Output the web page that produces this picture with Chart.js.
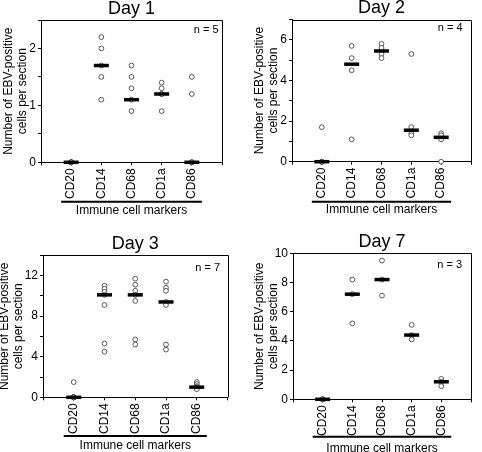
<!DOCTYPE html>
<html>
<head>
<meta charset="utf-8">
<script src="https://cdn.jsdelivr.net/npm/chart.js@4.4.0/dist/chart.umd.min.js"></script>
<style>
  body { margin: 0; background: #fff; }
  #wrap { position: relative; width: 482px; height: 452px; overflow: hidden; }
  #wrap canvas { position: absolute; }
</style>
</head>
<body>
<div id="wrap">
  <canvas id="day1" width="241" height="226" style="left:0;top:0"></canvas>
  <canvas id="day2" width="241" height="226" style="left:241px;top:0"></canvas>
  <canvas id="day3" width="241" height="226" style="left:0;top:226px"></canvas>
  <canvas id="day7" width="241" height="226" style="left:241px;top:226px"></canvas>
</div>
<script>
"use strict";

const markers = ['CD20', 'CD14', 'CD68', 'CD1a', 'CD86'];
const xTitle = 'Immune cell markers';
const yTitle = ['Number of EBV-positive', 'cells per section'];

// Day 1, n = 5
const day1Points = [
  [0, 0, 0, 0, 0],
  [2.2, 2.0, 1.7, 1.5, 1.1],
  [1.7, 1.5, 1.3, 1.1, 0.9],
  [1.4, 1.3, 1.2, 1.2, 0.9],
  [1.5, 1.2, 0, 0, 0]
];
const day1Medians = [0, 1.7, 1.1, 1.2, 0];
const day1Labels = [0, 1, 2];

// Day 2, n = 4
const day2Points = [
  [0, 0, 0, 1.7],
  [5.7, 5.1, 4.5, 1.1],
  [5.8, 5.6, 5.3, 5.1],
  [5.3, 1.7, 1.4, 1.3],
  [1.4, 1.3, 1.1, 0]
];
const day2Medians = [0, 4.8, 5.45, 1.55, 1.2];
const day2Labels = [0, 2, 4, 6];

// Day 3, n = 7
const day3Points = [
  [0, 0, 0, 0, 0, 0, 1.5],
  [11.0, 10.7, 10.4, 10.1, 9.1, 5.3, 4.5],
  [11.7, 11.1, 10.5, 10.1, 9.5, 5.7, 5.2],
  [11.4, 10.8, 10.5, 9.4, 9.1, 5.2, 4.7],
  [1.5, 1.3, 1.1, 1.0, 0.9, 0.9, 0.8]
];
const day3Medians = [0, 10.1, 10.1, 9.4, 1.0];
const day3Labels = [0, 4, 8, 12];

// Day 7, n = 3
const day7Points = [
  [0, 0, 0],
  [8.2, 7.2, 5.2],
  [9.5, 8.2, 7.1],
  [5.1, 4.4, 4.1],
  [1.4, 1.2, 0.9]
];
const day7Medians = [0, 7.2, 8.2, 4.4, 1.2];
const day7Labels = [0, 2, 4, 6, 8, 10];

Chart.defaults.font.family = "'Liberation Sans', Arial, sans-serif";
Chart.defaults.color = '#000';

// frame top/right, panel title, n label and the bracket under the markers
const decor = {
  id: 'decor',
  afterDraw(chart, args, o) {
    const ctx = chart.ctx;
    const a = chart.chartArea;
    const x = chart.scales.x;
    ctx.save();
    ctx.strokeStyle = '#000';
    ctx.lineWidth = 1;
    ctx.beginPath();
    ctx.moveTo(a.left, Math.round(a.top) + 0.5);
    ctx.lineTo(Math.round(a.right) + 0.5, Math.round(a.top) + 0.5);
    ctx.lineTo(Math.round(a.right) + 0.5, a.bottom);
    ctx.stroke();

    ctx.fillStyle = '#000';
    ctx.textBaseline = 'middle';
    ctx.textAlign = 'center';
    ctx.font = "18px 'Liberation Sans', Arial, sans-serif";
    ctx.fillText(o.title, (a.left + a.right) / 2, a.top - 11);

    ctx.textBaseline = 'alphabetic';
    ctx.textAlign = 'right';
    ctx.font = "11px 'Liberation Sans', Arial, sans-serif";
    ctx.fillText(o.n, a.right - o.nInset, a.top + o.nBase);

    const x1 = x.getPixelForValue(1) - 10;
    const x2 = x.getPixelForValue(markers.length) + 10;
    ctx.lineWidth = 2;
    ctx.beginPath();
    ctx.moveTo(x1, a.bottom + o.barOff);
    ctx.lineTo(x2, a.bottom + o.barOff);
    ctx.stroke();

    ctx.textAlign = 'center';
    ctx.textBaseline = 'middle';
    ctx.font = "12px 'Liberation Sans', Arial, sans-serif";
    ctx.fillText(xTitle, (x1 + x2) / 2, a.bottom + o.textOff);
    ctx.restore();
  }
};

function makeChart(id, points, medians, labels, g) {
  const pts = [];
  points.forEach(function (vals, i) {
    vals.forEach(function (v) { pts.push({ x: i + 1, y: v }); });
  });
  const med = medians.map(function (v, i) { return { x: i + 1, y: v }; });

  return new Chart(document.getElementById(id).getContext('2d'), {
    type: 'scatter',
    data: {
      datasets: [
        {
          data: med,
          order: 0,
          pointStyle: 'line',
          pointRadius: 7.5,
          pointHoverRadius: 7.5,
          borderColor: '#000',
          pointBorderWidth: 3.5,
          clip: false
        },
        {
          data: pts,
          order: 1,
          pointStyle: 'circle',
          pointRadius: 2.4,
          pointHoverRadius: 2.4,
          pointBorderWidth: 0.8,
          borderColor: '#333',
          backgroundColor: '#fff',
          clip: false
        }
      ]
    },
    options: {
      responsive: false,
      animation: false,
      devicePixelRatio: 1,
      layout: { padding: { top: g.top, right: 241 - g.right, left: 0, bottom: 0 } },
      plugins: {
        legend: { display: false },
        tooltip: { enabled: false },
        decor: { title: g.title, n: g.n, nInset: g.nInset, nBase: g.nBase, barOff: g.barOff, textOff: g.textOff }
      },
      scales: {
        x: {
          type: 'linear',
          min: 0,
          max: markers.length + 1,
          grid: { drawOnChartArea: false, tickLength: 3, color: '#000' },
          border: { color: '#000', width: 1 },
          ticks: {
            stepSize: 1,
            autoSkip: false,
            minRotation: 90,
            maxRotation: 90,
            padding: 3,
            font: { size: 12 },
            callback: function (v) { return markers[v - 1] || ''; }
          },
          afterFit: function (s) {
            s.height = 226 - g.bottom;
            s.paddingLeft = 0;
            s.paddingRight = 0;
          }
        },
        y: {
          min: 0,
          max: g.max,
          grid: { drawOnChartArea: false, tickLength: 3, color: '#000' },
          border: { color: '#000', width: 1 },
          title: {
            display: true,
            text: yTitle,
            font: { size: 12, lineHeight: 1.2 },
            padding: { top: g.titlePad, bottom: 0 }
          },
          ticks: {
            stepSize: g.step,
            padding: 2,
            font: { size: 12 },
            callback: function (v) { return labels.indexOf(v) >= 0 ? String(v) : ''; }
          },
          afterFit: function (s) {
            s.width = g.left;
            s.paddingTop = 0;
            s.paddingBottom = 0;
          }
        }
      }
    },
    plugins: [decor]
  });
}

makeChart('day1', day1Points, day1Medians, day1Labels,
  { title: 'Day 1', n: 'n = 5', left: 41, right: 222, top: 20, bottom: 162.3, max: 2.5, step: 0.5,
    titlePad: 1.5, nInset: 3.5, nBase: 13, barOff: 39.4, textOff: 48.2 });
makeChart('day2', day2Points, day2Medians, day2Labels,
  { title: 'Day 2', n: 'n = 4', left: 51, right: 237, top: 19.5, bottom: 161.7, max: 7, step: 1,
    titlePad: 11.5, nInset: 8.5, nBase: 11.4, barOff: 40, textOff: 48.3 });
makeChart('day3', day3Points, day3Medians, day3Labels,
  { title: 'Day 3', n: 'n = 7', left: 43, right: 227.5, top: 29.3, bottom: 171.3, max: 14, step: 2,
    titlePad: -2.5, nInset: 7.5, nBase: 15.7, barOff: 38.7, textOff: 47.9 });
makeChart('day7', day7Points, day7Medians, day7Labels,
  { title: 'Day 7', n: 'n = 3', left: 52, right: 236, top: 27.3, bottom: 173.3, max: 10, step: 1,
    titlePad: 11.5, nInset: 9, nBase: 14.4, barOff: 37.4, textOff: 49.4 });
</script>
</body>
</html>
